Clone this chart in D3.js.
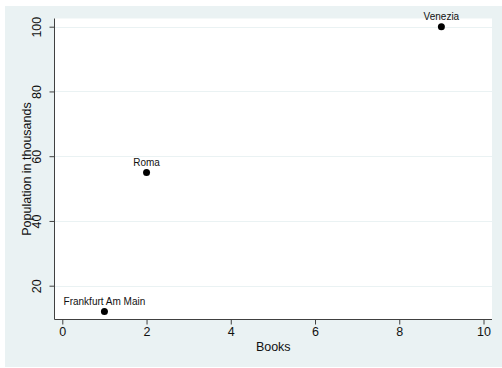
<!DOCTYPE html>
<html>
<head>
<meta charset="utf-8">
<script src="https://cdn.jsdelivr.net/npm/d3@7"></script>
<style>
  html, body { margin: 0; padding: 0; background: #ffffff; }
  svg { display: block; font-family: "Liberation Sans", Arial, Helvetica, sans-serif; }
</style>
</head>
<body>
<svg id="chart" width="502" height="368"></svg>
<script>
// Cities: number of books vs. population (thousands)
const cities = ["Frankfurt Am Main", "Roma", "Venezia"];
const books = [1, 2, 9];
const population = [12, 55, 100];
const xTicks = [0, 2, 4, 6, 8, 10];
const yTicks = [20, 40, 60, 80, 100];

const W = 502, H = 368;
const plot = { left: 54.5, right: 492, top: 18.5, bottom: 319.5 };

const svg = d3.select("#chart");

// graph region background
svg.append("rect")
  .attr("x", 5).attr("y", 6)
  .attr("width", W - 5).attr("height", H - 7)
  .attr("fill", "#eaf2f3");

// plot region
svg.append("rect")
  .attr("x", plot.left).attr("y", plot.top)
  .attr("width", plot.right - plot.left).attr("height", plot.bottom - plot.top)
  .attr("fill", "#ffffff");

const x = d3.scaleLinear().domain([0, 10]).range([62.3, 483.5]);
const y = d3.scaleLinear().domain([20, 100]).range([285.7, 26.7]);

// horizontal grid lines
svg.append("g")
  .selectAll("line")
  .data(yTicks)
  .join("line")
  .attr("x1", plot.left).attr("x2", plot.right)
  .attr("y1", d => Math.round(y(d)) + 0.5).attr("y2", d => Math.round(y(d)) + 0.5)
  .attr("stroke", "#eaf2f3")
  .attr("stroke-width", 1);

// y axis
const yAxis = svg.append("g")
  .attr("transform", `translate(${plot.left},0)`)
  .call(d3.axisLeft(y).tickValues(yTicks).tickSize(5).tickPadding(4).tickSizeOuter(0));
yAxis.select(".domain").attr("d", `M0,${plot.top}V${plot.bottom}`).attr("stroke", "#404040");
yAxis.selectAll(".tick line").attr("stroke", "#404040");
yAxis.selectAll(".tick text")
  .attr("font-size", 12.5)
  .attr("fill", "#111")
  .attr("x", null).attr("dy", null)
  .attr("text-anchor", "middle")
  .attr("transform", "translate(-14,0) rotate(-90)");

// x axis
const xAxis = svg.append("g")
  .attr("transform", `translate(0,${plot.bottom})`)
  .call(d3.axisBottom(x).tickValues(xTicks).tickSize(5).tickPadding(3).tickSizeOuter(0));
xAxis.select(".domain").attr("d", `M${plot.left},0H${plot.right}`).attr("stroke", "#404040");
xAxis.selectAll(".tick line").attr("stroke", "#404040");
xAxis.selectAll(".tick text").attr("font-size", 12.5).attr("fill", "#111");

// axis titles
svg.append("text")
  .attr("x", (plot.left + plot.right) / 2 + 0).attr("y", 351)
  .attr("text-anchor", "middle")
  .attr("font-size", 12.5)
  .attr("fill", "#111")
  .text("Books");

svg.append("text")
  .attr("transform", `translate(31,${(plot.top + plot.bottom) / 2}) rotate(-90)`)
  .attr("text-anchor", "middle")
  .attr("font-size", 12.5)
  .attr("fill", "#111")
  .text("Population in thousands");

// points
const pts = cities.map((c, i) => ({ name: c, b: books[i], p: population[i] }));
const g = svg.append("g");
g.selectAll("circle")
  .data(pts)
  .join("circle")
  .attr("cx", d => x(d.b)).attr("cy", d => y(d.p))
  .attr("r", 3.5)
  .attr("fill", "#000");

g.selectAll("text")
  .data(pts)
  .join("text")
  .attr("x", d => x(d.b)).attr("y", d => y(d.p) - 6.5)
  .attr("text-anchor", "middle")
  .attr("font-size", 10)
  .attr("fill", "#111")
  .text(d => d.name);
</script>
</body>
</html>
